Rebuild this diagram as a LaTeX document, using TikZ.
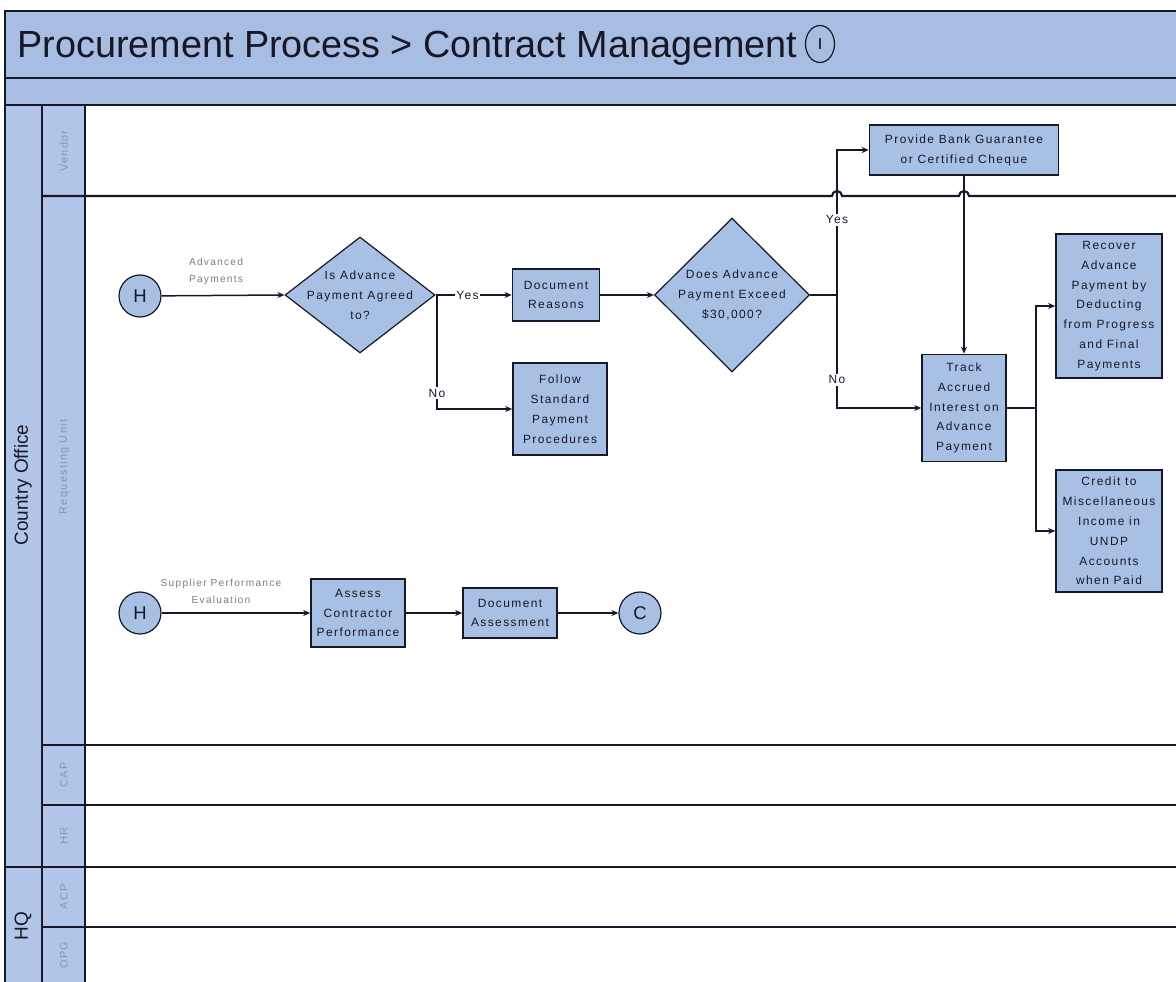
\documentclass[tikz,border=0pt]{standalone}
\usepackage{fontspec}
\setmainfont{Liberation Sans}
\newfontfamily\boxfont[LetterSpace=12]{Liberation Sans}
\usetikzlibrary{arrows.meta,shapes.geometric}

\definecolor{hdrblue}{RGB}{167,190,226}
\definecolor{boxblue}{RGB}{169,192,229}
\definecolor{colblue}{RGB}{176,197,232}
\definecolor{inkc}{RGB}{22,24,40}
\definecolor{lanegray}{RGB}{140,150,172}
\definecolor{notegray}{RGB}{120,125,135}

\tikzset{
  frame/.style={draw=inkc, line width=0.042cm},
  conn/.style={draw=inkc, line width=0.03cm},
  arr/.style={conn, -{Stealth[length=0.14cm,width=0.12cm]}},
  boxtxt/.style={font=\boxfont\fontsize{6.8}{11.3}\selectfont, text=inkc, align=center},
  proc/.style={rectangle, draw=inkc, line width=0.034cm, fill=boxblue, inner sep=0pt, boxtxt},
  dec/.style={diamond, draw=inkc, line width=0.024cm, fill=boxblue, inner sep=0pt},
  dectxt/.style={boxtxt, inner sep=0pt},
  term/.style={circle, draw=inkc, line width=0.024cm, fill=boxblue, minimum size=0.84cm, inner sep=0pt, font=\fontsize{10.5}{12}\selectfont, text=inkc},
  lbl/.style={boxtxt, fill=white, inner sep=1pt},
  note/.style={font=\boxfont\fontsize{5.8}{9.6}\selectfont, text=notegray, align=center},
  lanename/.style={font=\boxfont\fontsize{6.2}{7}\selectfont, text=lanegray, rotate=90},
  groupname/.style={font=\fontsize{10.8}{12}\selectfont, text=inkc, rotate=90}
}

\begin{document}
\begin{tikzpicture}[x=0.02cm,y=-0.02cm]
\useasboundingbox (0,0) rectangle (1176,982);
\fill[white] (0,0) rectangle (1176,982);

% header bars
\fill[hdrblue] (5,11) rectangle (1176,105);
\fill[colblue] (5,105) rectangle (85,982);
\draw[frame] (1176,11) -- (5,11) -- (5,982);
\draw[frame] (5,78) -- (1176,78);
\draw[frame] (5,105) -- (1176,105);
\draw[frame] (42,105) -- (42,982);
\draw[frame] (85,105) -- (85,982);

\node[anchor=base west, font=\fontsize{21.5}{24}\selectfont, text=inkc, inner sep=0pt] (title) at (17,58) {Procurement Process > Contract Management};
\node[ellipse, draw=inkc, line width=0.024cm, minimum width=0.58cm, minimum height=0.74cm, inner sep=0pt, font=\fontsize{9}{10}\selectfont] (info) at (820,44) {I};

% lane boundaries (the vendor line hops over the two connectors)
\draw[frame] (42,196) -- (832,196) arc[start angle=180, end angle=0, radius=0.1cm]
  -- (959,196) arc[start angle=180, end angle=0, radius=0.1cm] -- (1176,196);
\draw[frame] (42,745) -- (1176,745);
\draw[frame] (42,805) -- (1176,805);
\draw[frame] (5,867) -- (1176,867);
\draw[frame] (42,927) -- (1176,927);

% lane names
\node[groupname] (gco) at (23,485) {Country Office};
\node[groupname] (ghq) at (23,926) {HQ};
\node[lanename] (lv) at (64,151) {Vendor};
\node[lanename] (lr) at (64,467) {Requesting Unit};
\node[lanename] (lc) at (64,775) {CAP};
\node[lanename] (lh) at (64,836) {HR};
\node[lanename] (la) at (64,897) {ACP};
\node[lanename] (lo) at (64,955) {OPG};

% advance payments
\node[term] (h1) at (140,296) {H};
\node[note] (n1) at (216,271) {Advanced\\Payments};
\node[dec, minimum width=3cm, minimum height=2.32cm,
  label={[dectxt]center:Is Advance\\Payment Agreed\\to?}] (d1) at (360,295) {};
\node[proc, minimum width=1.74cm, minimum height=1.04cm] (dr) at (556,295) {Document\\Reasons};
\node[proc, minimum width=1.88cm, minimum height=1.84cm] (fs) at (560,409) {Follow\\Standard\\Payment\\Procedures};
\node[dec, minimum width=3.1cm, minimum height=3.08cm,
  label={[dectxt]center:Does Advance\\Payment Exceed\\\$30,000?}] (d2) at (732,295) {};
\node[proc, minimum width=3.78cm, minimum height=1.0cm] (pb) at (964,150) {Provide Bank Guarantee\\or Certified Cheque};
\node[proc, minimum width=1.68cm, minimum height=2.14cm] (tr) at (964,408) {Track\\Accrued\\Interest on\\Advance\\Payment};
\node[proc, minimum width=2.12cm, minimum height=2.88cm] (rc) at (1109,306) {Recover\\Advance\\Payment by\\Deducting\\from Progress\\and Final\\Payments};
\node[proc, minimum width=2.12cm, minimum height=2.44cm] (cr) at (1109,531) {Credit to\\Miscellaneous\\Income in\\UNDP\\Accounts\\when Paid};

\coordinate (j1) at (437,295);
\coordinate (j2) at (837,295);
\coordinate (j3) at (1036,408);

\draw[arr] (h1) -- (d1.west);
\draw[arr] (d1.east) -- node[lbl, pos=0.42] {Yes} (dr.west);
\draw[arr] (d1.east) -- (j1) |- node[lbl, pos=0.43] {No} (fs.west);
\draw[arr] (dr.east) -- (d2.west);
\draw[conn] (d2.east) -- (j2);
\draw[arr] (j2) |- node[lbl, pos=0.26] {Yes} (pb.west);
\draw[arr] (j2) |- node[lbl, pos=0.375] {No} (tr.west);
\draw[arr] (pb.south) -- (tr.north);
\draw[conn] (tr.east) -- (j3);
\draw[arr] (j3) |- (rc.west);
\draw[arr] (j3) |- (cr.west);

% supplier performance evaluation
\node[term] (h2) at (140,613) {H};
\node[note] (n2) at (221,591) {Supplier Performance\\Evaluation};
\node[proc, minimum width=1.88cm, minimum height=1.36cm] (as) at (358,613) {Assess\\Contractor\\Performance};
\node[proc, minimum width=1.88cm, minimum height=1.0cm] (da) at (510,613) {Document\\Assessment};
\node[term] (c1) at (640,613) {C};

\draw[arr] (h2) -- (as.west);
\draw[arr] (as.east) -- (da.west);
\draw[arr] (da.east) -- (c1.west);
\end{tikzpicture}
\end{document}
